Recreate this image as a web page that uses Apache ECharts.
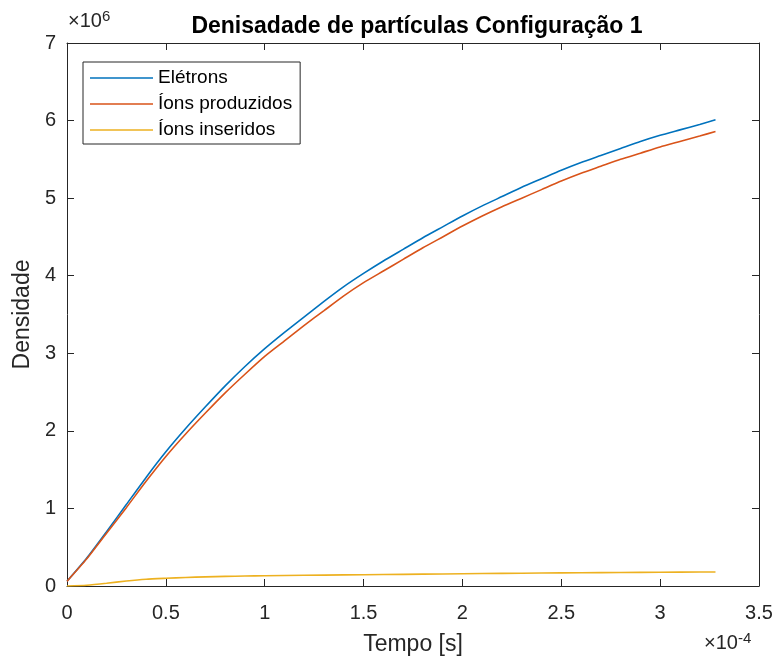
<!DOCTYPE html>
<html>
<head>
<meta charset="utf-8">
<script src="https://cdn.jsdelivr.net/npm/echarts@6/dist/echarts.min.js"></script>
<style>
html,body{margin:0;padding:0;background:#fff;}
#chart{width:777px;height:661px;}
</style>
</head>
<body>
<div id="chart"></div>
<script>
// Time in units of 1e-4 s
const timeE = [0, 0.1, 0.2, 0.3, 0.4, 0.5, 0.6, 0.7, 0.8, 0.9, 1.0, 1.1, 1.2, 1.3, 1.4, 1.5, 1.6, 1.7, 1.8, 1.9, 2.0, 2.1, 2.2, 2.3, 2.4, 2.5, 2.6, 2.7, 2.8, 2.9, 3.0, 3.1, 3.2, 3.28];
// Densities in units of 1e6
const eletrons = [0.06, 0.36, 0.70, 1.05, 1.40, 1.73, 2.03, 2.31, 2.58, 2.83, 3.06, 3.27, 3.47, 3.67, 3.86, 4.03, 4.19, 4.34, 4.49, 4.63, 4.77, 4.90, 5.02, 5.14, 5.25, 5.36, 5.46, 5.55, 5.64, 5.73, 5.81, 5.88, 5.95, 6.01];
const ionsProduzidos = [0.06, 0.35, 0.68, 1.01, 1.35, 1.67, 1.96, 2.23, 2.49, 2.73, 2.96, 3.16, 3.36, 3.55, 3.74, 3.91, 4.06, 4.21, 4.36, 4.50, 4.64, 4.77, 4.89, 5.00, 5.11, 5.22, 5.32, 5.41, 5.50, 5.58, 5.66, 5.73, 5.80, 5.86];
const timeI = [0, 0.1, 0.2, 0.3, 0.4, 0.5, 0.6, 0.7, 0.8, 0.9, 1.0, 1.2, 1.4, 1.6, 1.8, 2.0, 2.2, 2.4, 2.6, 2.8, 3.0, 3.2, 3.28];
const ionsInseridos = [0, 0.01, 0.035, 0.065, 0.088, 0.10, 0.11, 0.118, 0.124, 0.128, 0.132, 0.138, 0.143, 0.148, 0.153, 0.158, 0.163, 0.167, 0.171, 0.174, 0.177, 0.180, 0.181];
const seriesNames = ['Elétrons', 'Íons produzidos', 'Íons inseridos'];
const colors = ['#0072BD', '#D95319', '#EDB120'];
const xTicks = {min: 0, max: 3.5, interval: 0.5};
const yTicks = {min: 0, max: 7, interval: 1};

const pair = (xs, ys) => xs.map((x, i) => [x, ys[i]]);
const axisCol = '#262626';
const font = 'Liberation Sans, Arial, sans-serif';

const chart = echarts.init(document.getElementById('chart'));
const mkSeries = (name, data, c) => ({
  name, type: 'line', data, showSymbol: false, symbol: 'none', smooth: 0.2,
  lineStyle: {color: c, width: 1.6}, itemStyle: {color: c}, animation: false
});
chart.setOption({
  animation: false,
  color: colors,
  title: {
    text: 'Denisadade de partículas Configuração 1',
    left: 412, top: 10, textAlign: 'center',
    textStyle: {fontFamily: font, fontSize: 23, fontWeight: 'bold', color: '#000'}
  },
  grid: {left: 67, right: 18, top: 43, bottom: 69},
  legend: {
    orient: 'vertical', left: 83, top: 62,
    data: seriesNames,
    icon: 'rect', itemWidth: 63, itemHeight: 1.6, itemGap: 0,
    padding: [3, 8, 1, 7],
    borderColor: axisCol, borderWidth: 1, backgroundColor: '#fff',
    textStyle: {fontFamily: font, fontSize: 19, color: '#000', lineHeight: 26}
  },
  xAxis: [{
    type: 'value', min: xTicks.min, max: xTicks.max, interval: xTicks.interval,
    name: 'Tempo [s]', nameLocation: 'middle', nameGap: 47,
    nameTextStyle: {fontFamily: font, fontSize: 23, color: axisCol},
    axisLine: {show: true, onZero: false, lineStyle: {color: axisCol, width: 1}},
    axisTick: {show: true, inside: true, length: 7, lineStyle: {color: axisCol}},
    axisLabel: {fontFamily: font, fontSize: 20, color: axisCol, margin: 17},
    splitLine: {show: false}
  }, {
    type: 'value', position: 'top', min: xTicks.min, max: xTicks.max, interval: xTicks.interval,
    axisLine: {show: true, onZero: false, lineStyle: {color: axisCol, width: 1}},
    axisTick: {show: true, inside: true, length: 7, lineStyle: {color: axisCol}},
    axisLabel: {show: false}, splitLine: {show: false}
  }],
  yAxis: [{
    type: 'value', min: yTicks.min, max: yTicks.max, interval: yTicks.interval,
    name: 'Densidade', nameLocation: 'middle', nameGap: 29, nameRotate: 90,
    nameTextStyle: {fontFamily: font, fontSize: 23, color: axisCol},
    axisLine: {show: true, onZero: false, lineStyle: {color: axisCol, width: 1}},
    axisTick: {show: true, inside: true, length: 7, lineStyle: {color: axisCol}},
    axisLabel: {fontFamily: font, fontSize: 20, color: axisCol, margin: 11},
    splitLine: {show: false}
  }, {
    type: 'value', position: 'right', min: yTicks.min, max: yTicks.max, interval: yTicks.interval,
    axisLine: {show: true, onZero: false, lineStyle: {color: axisCol, width: 1}},
    axisTick: {show: true, inside: true, length: 7, lineStyle: {color: axisCol}},
    axisLabel: {show: false}, splitLine: {show: false}
  }],
  graphic: [{
    type: 'text', left: 68, top: 9,
    style: {
      text: '×10{sup|6}', fontFamily: font, fontSize: 20, fill: axisCol,
      rich: {sup: {fontSize: 15, verticalAlign: 'top', padding: [0, 0, 10, 0], fill: axisCol}}
    }
  }, {
    type: 'text', left: 704, top: 631,
    style: {
      text: '×10{sup|-4}', fontFamily: font, fontSize: 20, fill: axisCol,
      rich: {sup: {fontSize: 15, verticalAlign: 'top', padding: [0, 0, 10, 0], fill: axisCol}}
    }
  }],
  series: [
    mkSeries(seriesNames[0], pair(timeE, eletrons), colors[0]),
    mkSeries(seriesNames[1], pair(timeE, ionsProduzidos), colors[1]),
    mkSeries(seriesNames[2], pair(timeI, ionsInseridos), colors[2])
  ]
});
</script>
</body>
</html>
